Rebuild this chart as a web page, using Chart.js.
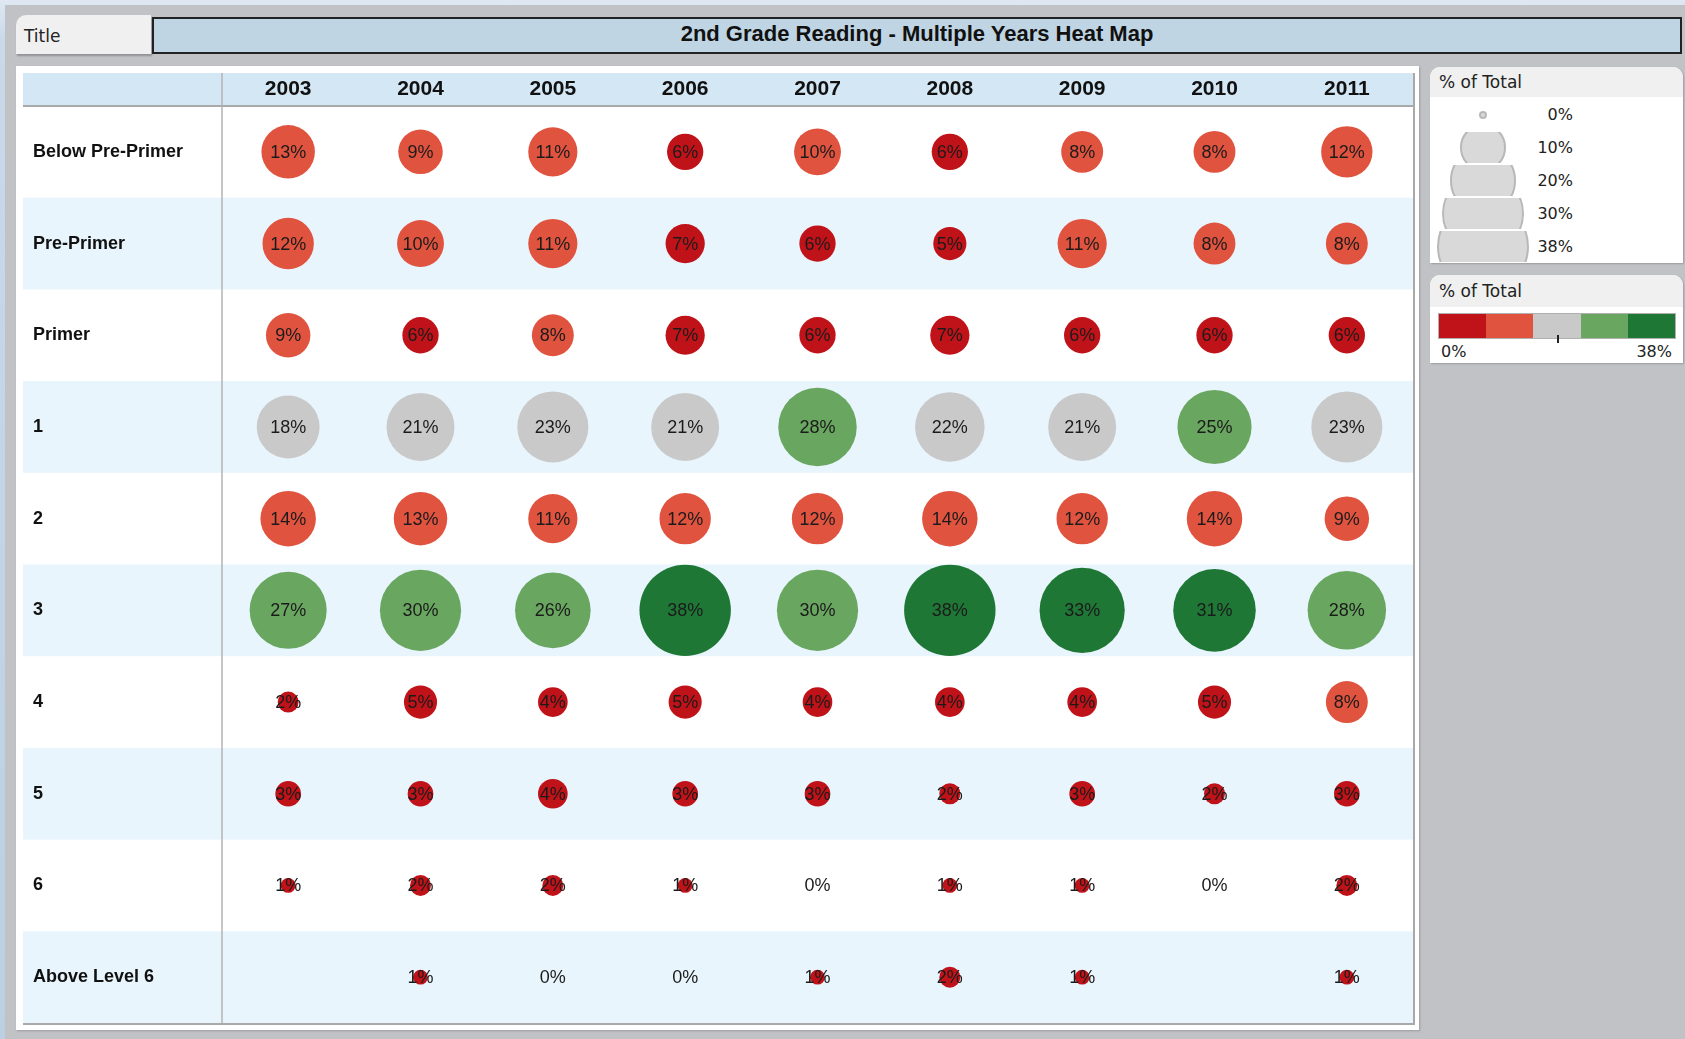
<!DOCTYPE html>
<html>
<head>
<meta charset="utf-8">
<script src="https://cdn.jsdelivr.net/npm/chart.js@4/dist/chart.umd.min.js"></script>
<style>
  html, body { margin:0; padding:0; }
  body { width:1685px; height:1039px; position:relative; overflow:hidden;
         background:linear-gradient(180deg,#dfe8f2 0px,#c9d9ea 40px,#bccfe3 100%); }
  #frame { position:absolute; left:5px; top:5px; width:1680px; height:1034px; background:#c1c2c6; }
  .abs { position:absolute; box-sizing:border-box; }
  #titleTab { left:16px; top:15px; width:135px; height:39px; background:#f0f0f0;
              border-top-left-radius:10px; box-shadow:1px 2px 2px rgba(0,0,0,0.25);
              font:17px "DejaVu Sans", sans-serif; color:#222; padding-left:8px; line-height:42px; }
  #titleBar { left:152px; top:17px; width:1530px; height:37px; background:#bfd5e3; border:2px solid #222;
              font:bold 22px "Liberation Sans", Arial, sans-serif; color:#111; text-align:center; line-height:30px; }
  #mainPanel { left:16px; top:66px; width:1403px; height:964px; background:#fff; box-shadow:1px 1px 2px rgba(0,0,0,0.2); }
  #chartWrap { left:23px; top:73px; width:1392px; height:952px; }
  #chartWrap canvas { display:block; }
  .legendPanel { background:#fff; border-radius:10px 10px 0 0; box-shadow:1px 1px 2px rgba(0,0,0,0.2); overflow:hidden; }
  .legendHead { position:absolute; left:0; top:0; width:100%; background:#f0f0f0;
                font:17px "DejaVu Sans", sans-serif; color:#222; padding-left:9px; box-sizing:border-box; }
  .legendTxt { font:16px "DejaVu Sans", sans-serif; color:#222; position:absolute; }
</style>
</head>
<body>
<div id="frame"></div>
<div id="titleTab" class="abs">Title</div>
<div id="titleBar" class="abs">2nd Grade Reading - Multiple Years Heat Map</div>
<div id="mainPanel" class="abs"></div>
<div id="chartWrap" class="abs"><canvas id="c" width="1392" height="952"></canvas></div>

<div id="sizeLegend" class="abs legendPanel" style="left:1430px; top:67px; width:253px; height:196px;">
  <div class="legendHead" style="height:30px; line-height:30px;">% of Total</div>
</div>
<div id="colorLegend" class="abs legendPanel" style="left:1430px; top:275px; width:253px; height:88px;">
  <div class="legendHead" style="height:32px; line-height:32px;">% of Total</div>
</div>

<script>
// ---------- DATA ----------
const years = ['2003', '2004', '2005', '2006', '2007', '2008', '2009', '2010', '2011'];
const levels = ['Below Pre-Primer', 'Pre-Primer', 'Primer', '1', '2', '3', '4', '5', '6', 'Above Level 6'];

const belowPrePrimer = [13, 9, 11, 6, 10, 6, 8, 8, 12];
const prePrimer      = [12, 10, 11, 7, 6, 5, 11, 8, 8];
const primer         = [9, 6, 8, 7, 6, 7, 6, 6, 6];
const level1         = [18, 21, 23, 21, 28, 22, 21, 25, 23];
const level2         = [14, 13, 11, 12, 12, 14, 12, 14, 9];
const level3         = [27, 30, 26, 38, 30, 38, 33, 31, 28];
const level4         = [2, 5, 4, 5, 4, 4, 4, 5, 8];
const level5         = [3, 3, 4, 3, 3, 2, 3, 2, 3];
const level6         = [1, 2, 2, 1, 0, 1, 1, 0, 2];
const aboveLevel6    = [null, 1, 0, 0, 1, 2, 1, null, 1];

const sizeLegendValues = [0, 10, 20, 30, 38];
const colorRangeLabels = ['0%', '38%'];
const colorMax = 38;
const colorBreaks = [7.5, 15, 24, 30.5];
const colorSteps = ['#c01319', '#e0533f', '#c9c9c9', '#69a660', '#1f7736'];

// ---------- BUILD ----------
const rows = [belowPrePrimer, prePrimer, primer, level1, level2, level3, level4, level5, level6, aboveLevel6];
const points = [];
rows.forEach((vals, yi) => vals.forEach((v, xi) => {
  if (v !== null) points.push({ x: xi, y: yi, v: v });
}));

const MAX_R = 45.7;
const radiusOf = v => MAX_R * Math.sqrt(Math.max(v, 0) / colorMax);
const colorOf = v => {
  let i = 0;
  while (i < colorBreaks.length && v >= colorBreaks[i]) i++;
  return colorSteps[i];
};

const backgroundPlugin = {
  id: 'tableBackground',
  beforeDraw(chart) {
    const { ctx, chartArea: a, scales } = chart;
    const y = scales.y;
    ctx.save();
    ctx.fillStyle = '#d4e7f5';
    ctx.fillRect(0, 0, a.right, a.top);
    ctx.fillStyle = '#e8f5fd';
    levels.forEach((_, i) => {
      if (i % 2 === 1) {
        const top = y.getPixelForValue(i - 0.5);
        const bot = y.getPixelForValue(i + 0.5);
        ctx.fillRect(0, top, a.right, bot - top);
      }
    });
    ctx.strokeStyle = '#a9a9a9';
    ctx.lineWidth = 2;
    ctx.beginPath(); ctx.moveTo(0, a.top); ctx.lineTo(a.right, a.top); ctx.stroke();
    ctx.beginPath(); ctx.moveTo(0, a.bottom + 1); ctx.lineTo(a.right + 2, a.bottom + 1); ctx.stroke();
    ctx.beginPath(); ctx.moveTo(a.right + 1, 0); ctx.lineTo(a.right + 1, a.bottom + 2); ctx.stroke();
    ctx.strokeStyle = '#b3b3b3';
    ctx.lineWidth = 1.5;
    ctx.beginPath(); ctx.moveTo(a.left, 0); ctx.lineTo(a.left, a.bottom); ctx.stroke();
    ctx.restore();
  }
};

const labelPlugin = {
  id: 'bubbleLabels',
  afterDatasetsDraw(chart) {
    const { ctx } = chart;
    const meta = chart.getDatasetMeta(0);
    ctx.save();
    ctx.font = '18px "Liberation Sans", Arial, sans-serif';
    ctx.fillStyle = '#1b1b1b';
    ctx.textAlign = 'center';
    ctx.textBaseline = 'middle';
    meta.data.forEach((el, i) => {
      const p = chart.data.datasets[0].data[i];
      ctx.fillText(p.v + '%', el.x, el.y + 1);
    });
    ctx.restore();
  }
};

const noPad = s => { s.paddingTop = 0; s.paddingBottom = 0; s.paddingLeft = 0; s.paddingRight = 0; };

Chart.defaults.font.family = '"Liberation Sans", Arial, sans-serif';

new Chart(document.getElementById('c'), {
  type: 'bubble',
  data: {
    datasets: [{
      label: '% of Total',
      data: points,
      radius: ctx => radiusOf(ctx.raw ? ctx.raw.v : 0),
      backgroundColor: ctx => colorOf(ctx.raw ? ctx.raw.v : 0),
      borderWidth: 0,
      hoverRadius: 0,
      hoverBorderWidth: 0
    }]
  },
  options: {
    responsive: false,
    animation: false,
    devicePixelRatio: 1,
    events: [],
    layout: { autoPadding: false, padding: { left: 10, right: 2, top: 0, bottom: 2 } },
    plugins: { legend: { display: false }, tooltip: { enabled: false }, title: { display: false } },
    scales: {
      x: {
        type: 'linear', position: 'top', min: -0.5, max: 8.5,
        grid: { display: false, drawTicks: false },
        border: { display: false },
        afterBuildTicks: s => { s.ticks = years.map((_, i) => ({ value: i })); },
        afterFit: s => { s.height = 33; noPad(s); },
        ticks: {
          callback: v => years[v],
          font: { size: 21, weight: 'bold' }, color: '#111',
          padding: 4, maxRotation: 0, autoSkip: false
        }
      },
      y: {
        type: 'linear', position: 'left', min: -0.5, max: 9.5, reverse: true,
        grid: { display: false, drawTicks: false },
        border: { display: false },
        afterBuildTicks: s => { s.ticks = levels.map((_, i) => ({ value: i })); },
        afterFit: s => { s.width = 189; noPad(s); },
        ticks: {
          callback: v => levels[v],
          crossAlign: 'far',
          font: { size: 18, weight: 'bold' }, color: '#111',
          autoSkip: false
        }
      }
    }
  },
  plugins: [backgroundPlugin, labelPlugin]
});

// ---------- LEGENDS ----------
const sizeLegend = document.getElementById('sizeLegend');
sizeLegendValues.forEach((v, i) => {
  const rowTop = 31 + i * 33;
  const cx = 53;
  const box = document.createElement('div');
  box.style.cssText = `position:absolute; left:${cx - 50}px; top:${rowTop + 1}px; width:100px; height:31px; overflow:hidden;`;
  const d = v === 0 ? 8 : 2 * radiusOf(v);
  const circ = document.createElement('div');
  circ.style.cssText = `position:absolute; box-sizing:border-box; left:${50 - d / 2}px; top:${15.5 - d / 2}px; width:${d}px; height:${d}px; border-radius:50%; background:#d9d9d9; border:2px solid #b8b8b8;`;
  box.appendChild(circ);
  sizeLegend.appendChild(box);
  const t = document.createElement('div');
  t.className = 'legendTxt';
  t.textContent = v + '%';
  t.style.cssText += `right:${253 - 143}px; top:${rowTop + 7}px;`;
  sizeLegend.appendChild(t);
});

const colorLegend = document.getElementById('colorLegend');
const bar = document.createElement('div');
bar.style.cssText = 'position:absolute; left:8px; top:38px; width:238px; height:26px; border:1px solid #b0b0b0; box-sizing:border-box; display:flex;';
colorSteps.forEach(c => {
  const seg = document.createElement('div');
  seg.style.cssText = `flex:1; background:${c};`;
  bar.appendChild(seg);
});
colorLegend.appendChild(bar);
const tick = document.createElement('div');
tick.style.cssText = 'position:absolute; left:127px; top:60px; width:2px; height:8px; background:#222;';
colorLegend.appendChild(tick);
const lo = document.createElement('div');
lo.className = 'legendTxt'; lo.textContent = colorRangeLabels[0];
lo.style.cssText += 'left:11px; top:67px;';
colorLegend.appendChild(lo);
const hi = document.createElement('div');
hi.className = 'legendTxt'; hi.textContent = colorRangeLabels[1];
hi.style.cssText += 'right:11px; top:67px;';
colorLegend.appendChild(hi);
</script>
</body>
</html>
